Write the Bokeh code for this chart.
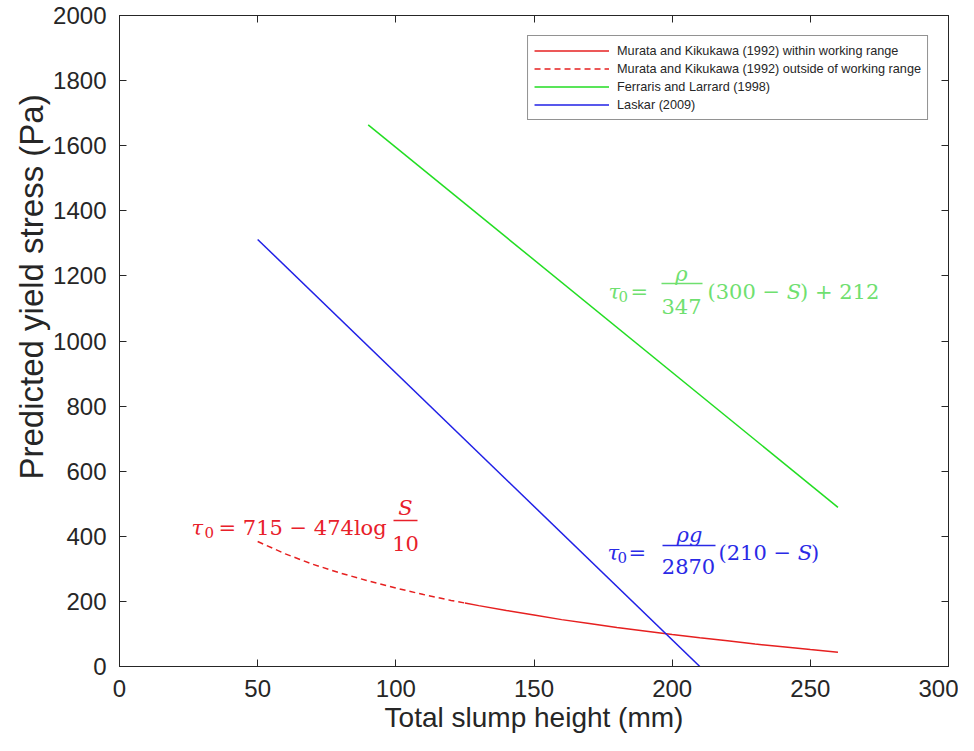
from bokeh.plotting import figure
from bokeh.models import Range1d, LinearAxis, Label, Legend, LegendItem, FixedTicker, Title
from bokeh.embed import file_html
from bokeh.resources import INLINE

# ---- data ----
slump_murata_in = [125, 130, 140, 150, 160, 170, 180, 190, 200, 210, 220, 230, 240, 250, 260]
tau_murata_in = [195, 187, 172, 158, 144, 132, 120, 109, 98, 88, 79, 69, 61, 52, 44]
slump_murata_out = [50, 60, 70, 80, 90, 100, 110, 120, 125]
tau_murata_out = [384, 346, 314, 287, 263, 241, 221, 203, 195]
slump_ferraris = [90, 260]
tau_ferraris = [1664, 489]
slump_laskar = [50, 210]
tau_laskar = [1312, 0]

x_ticks = [0, 50, 100, 150, 200, 250, 300]
y_ticks = [0, 200, 400, 600, 800, 1000, 1200, 1400, 1600, 1800, 2000]

labels = ["Murata and Kikukawa (1992) within working range",
          "Murata and Kikukawa (1992) outside of working range",
          "Ferraris and Larrard (1998)",
          "Laskar (2009)"]
x_title = "Total slump height (mm)"
y_title = "Predicted yield stress (Pa)"

RED = "#e62020"
GREEN = "#22dd22"
BLUE = "#2020e6"
AX = "#262626"

W, H = 958, 735
FL, FR, FT, FB = 119, 948, 15, 666   # frame edges in canvas pixels

p = figure(width=W, height=H, output_backend="svg", toolbar_location=None,
           x_range=Range1d(0, 300), y_range=Range1d(0, 2000),
           min_border_left=FL, min_border_right=W - FR, min_border_top=FT,
           min_border_bottom=H - FB)
p.grid.visible = False
p.outline_line_color = AX
p.outline_line_width = 1

for ax, ticks in ((p.xaxis[0], x_ticks), (p.yaxis[0], y_ticks)):
    ax.ticker = FixedTicker(ticks=ticks)
    ax.major_tick_in = 7
    ax.major_tick_out = 0
    ax.minor_tick_in = 0
    ax.minor_tick_out = 0
    ax.axis_line_color = AX
    ax.major_tick_line_color = AX
    ax.major_label_text_font = "Liberation Sans"
    ax.major_label_text_font_size = "24px"
    ax.major_label_text_color = AX
p.xaxis.major_label_standoff = 13
p.yaxis.major_label_standoff = 13

for loc, ticks in (("above", x_ticks), ("right", y_ticks)):
    a = LinearAxis(ticker=FixedTicker(ticks=ticks), major_tick_in=7, major_tick_out=0,
                   minor_tick_in=0, minor_tick_out=0, major_label_text_font_size="0px",
                   major_label_text_color=None, major_label_standoff=0,
                   axis_line_color=AX, major_tick_line_color=AX)
    p.add_layout(a, loc)

# axis titles (as side titles so they can be shifted like in the reference)
p.add_layout(Title(text=y_title, text_font="Liberation Sans", text_font_size="33px",
                   text_font_style="normal", text_color=AX, align="left",
                   offset=187, standoff=2), "left")
p.add_layout(Title(text=x_title, text_font="Liberation Sans", text_font_size="28px",
                   text_font_style="normal", text_color=AX, align="center",
                   offset=0, standoff=0), "below")

r1 = p.line(slump_murata_in, tau_murata_in, line_color=RED, line_width=1.5)
r2 = p.line(slump_murata_out, tau_murata_out, line_color=RED, line_width=1.5, line_dash="6 4")
r3 = p.line(slump_ferraris, tau_ferraris, line_color=GREEN, line_width=1.5)
r4 = p.line(slump_laskar, tau_laskar, line_color=BLUE, line_width=1.5)

legend = Legend(items=[LegendItem(label=labels[0], renderers=[r1]),
                       LegendItem(label=labels[1], renderers=[r2]),
                       LegendItem(label=labels[2], renderers=[r3]),
                       LegendItem(label=labels[3], renderers=[r4])],
                location="top_right", margin=20, padding=6, spacing=1,
                glyph_width=75, glyph_height=17, label_height=17, label_standoff=8,
                label_text_font="Liberation Sans", label_text_font_size="12.7px",
                label_text_color=AX, border_line_color=AX, border_line_width=1,
                background_fill_color="white", background_fill_alpha=1)
p.add_layout(legend)


def dx(px):
    return (px - FL) * 300 / (FR - FL)


def dy(py):
    return (FB - py) * 2000 / (FB - FT)


# ---- equations ----
FONT = "DejaVu Serif"
FS = 21
EM = {"0": .636, "1": .636, "2": .636, "3": .636, "4": .636, "5": .636, "6": .636,
      "7": .636, "8": .636, "9": .636, " ": .318, "(": .390, ")": .390, "−": .838,
      "+": .838, "=": .838, "l": .320, "o": .602, "g": .640, "S": .635}


def width(t, fs=FS):
    return sum(EM.get(c, .6) for c in t) * fs


def lab(px, py, text, color, size=FS, style="normal", align="left"):
    p.add_layout(Label(x=dx(px), y=dy(py), text=text, text_color=color, text_font=FONT,
                       text_font_size=f"{size}px", text_font_style=style,
                       text_align=align, text_baseline="alphabetic"))


def run(px, py, pieces, color):
    for t, style in pieces:
        lab(px, py, t, color, style=style)
        px += width(t)


def bar(px0, px1, py, color):
    p.segment(x0=[dx(px0)], y0=[dy(py)], x1=[dx(px1)], y1=[dy(py)],
              line_color=color, line_width=1.3)


# red equation
RT = "#e8202a"
lab(191, 527, "τ", RT, style="italic")
lab(204, 532, "0", RT, size=15)
lab(218, 527, "= 715 − 474log", RT)
lab(405, 507, "S", RT, style="italic", align="center")
bar(393, 417, 520, RT)
lab(405, 543, "10", RT, align="center")

# green equation
GT = "#6fe06f"
lab(608, 291, "τ", GT, style="italic")
lab(618, 296, "0", GT, size=15)
lab(630, 291, "=", GT)
lab(681, 273, "ρ", GT, style="italic", align="center")
bar(661, 702, 283, GT)
lab(681, 306, "347", GT, align="center")
run(707, 291, [("(300 − ", "normal"), ("S", "italic"), (") + 212", "normal")], GT)

# blue equation
BT = "#2a2ae6"
lab(607, 552, "τ", BT, style="italic")
lab(617, 557, "0", BT, size=15)
lab(628, 552, "=", BT)
lab(689, 534, "ρg", BT, style="italic", align="center")
bar(662, 715, 545, BT)
lab(688, 566, "2870", BT, align="center")
run(718, 552, [("(210 − ", "normal"), ("S", "italic"), (")", "normal")], BT)

open("out.html", "w").write(file_html(p, INLINE))
